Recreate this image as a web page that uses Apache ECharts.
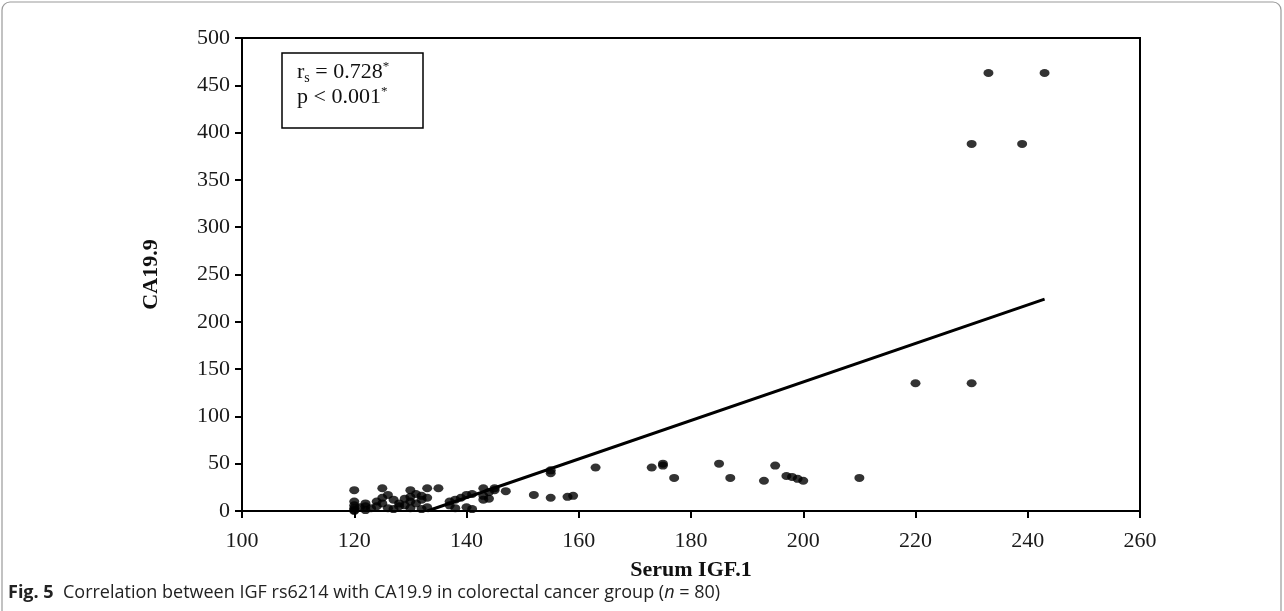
<!DOCTYPE html>
<html>
<head>
<meta charset="utf-8">
<script src="https://cdn.jsdelivr.net/npm/echarts@6/dist/echarts.min.js"></script>
<style>
  html, body { margin: 0; padding: 0; background: #fff; }
  #chart { width: 1284px; height: 611px; }
</style>
</head>
<body>
<div id="chart"></div>
<script>
// Serum IGF.1 (x) against CA19.9 (y), colorectal cancer group
const igfValues = [
  120, 120, 120, 120, 120, 120, 121, 122, 122, 122, 123, 124, 124,
  125, 125, 125, 126, 126, 127, 127, 128, 128, 129, 129,
  130, 130, 130, 130, 131, 131, 132, 132, 132, 133, 133, 133,
  135, 137, 137, 138, 138, 139, 140, 140, 141, 141,
  143, 143, 143, 144, 144, 145, 145, 147,
  152, 155, 155, 155, 158, 159, 163, 173, 175, 175, 177,
  185, 187, 193, 195, 197, 198, 199, 200, 210,
  220, 230, 230, 233, 239, 243
];
const ca199Values = [
  22, 10, 6, 3, 1, 0, 4, 5, 1, 8, 3, 5, 10,
  24, 14, 8, 17, 3, 12, 2, 8, 5, 13, 6,
  22, 15, 10, 3, 18, 8, 12, 16, 2, 24, 14, 4,
  24, 10, 6, 12, 3, 14, 17, 4, 18, 2,
  24, 16, 12, 13, 20, 24, 22, 21,
  17, 43, 40, 14, 15, 16, 46, 46, 48, 50, 35,
  50, 35, 32, 48, 37, 36, 34, 32, 35,
  135, 135, 388, 463, 388, 463
];

// fitted trend line end points
const trendX = [133, 243];
const trendY = [0, 224];

const xTicks = { min: 100, max: 260, step: 20 };
const yTicks = { min: 0, max: 500, step: 50 };

const statLines = ['r{sub|s} = 0.728{sup|*}', 'p < 0.001{sup|*}'];
const xTitle = 'Serum IGF.1';
const yTitle = 'CA19.9';
const captionLead = 'Fig. 5';
const captionText = 'Correlation between IGF rs6214 with CA19.9 in colorectal cancer group (';
const captionTail = ')';

const points = igfValues.map((x, i) => [x, ca199Values[i]]);
const trend = trendX.map((x, i) => [x, trendY[i]]);

const serif = '"Liberation Serif", "DejaVu Serif", serif';
const sans = '"Open Sans", "Noto Sans", sans-serif';

const chart = echarts.init(document.getElementById('chart'), null, { renderer: 'canvas' });

const axisCommon = {
  axisLine: { show: true, onZero: false, lineStyle: { color: '#000', width: 2 } },
  axisTick: { show: true, inside: false, length: 7, lineStyle: { color: '#000', width: 2 } },
  splitLine: { show: false },
  axisLabel: { color: '#1a1a1a', fontFamily: serif, fontSize: 22 }
};

chart.setOption({
  animation: false,
  backgroundColor: '#fff',
  grid: {
    left: 242, top: 38, right: 144, bottom: 100,
    show: true, borderColor: '#000', borderWidth: 2, backgroundColor: 'transparent'
  },
  xAxis: Object.assign({}, axisCommon, {
    type: 'value',
    min: xTicks.min, max: xTicks.max, interval: xTicks.step,
    name: xTitle, nameLocation: 'middle', nameGap: 48,
    nameTextStyle: { color: '#111', fontFamily: serif, fontSize: 22, fontWeight: 'bold' },
    axisLabel: Object.assign({}, axisCommon.axisLabel, { margin: 19 })
  }),
  yAxis: Object.assign({}, axisCommon, {
    type: 'value',
    min: yTicks.min, max: yTicks.max, interval: yTicks.step,
    name: yTitle, nameLocation: 'middle', nameGap: 80, nameRotate: 90,
    nameTextStyle: { color: '#111', fontFamily: serif, fontSize: 22, fontWeight: 'bold' },
    axisLabel: Object.assign({}, axisCommon.axisLabel, { margin: 12 })
  }),
  series: [
    {
      type: 'scatter',
      data: points,
      symbol: 'circle',
      symbolSize: [10, 8],
      itemStyle: { color: '#000' },
      z: 3
    },
    {
      type: 'line',
      data: trend,
      symbol: 'none',
      lineStyle: { color: '#000', width: 3 },
      z: 2
    }
  ],
  graphic: [
    {
      type: 'rect',
      shape: { x: 2, y: 2, width: 1279, height: 640, r: 8 },
      style: { fill: 'none', stroke: '#9a9a9a', lineWidth: 1.2 },
      silent: true
    },
    {
      type: 'rect',
      shape: { x: 282, y: 53, width: 141, height: 75 },
      style: { fill: '#fff', stroke: '#000', lineWidth: 1.5 },
      z: 10
    },
    {
      type: 'text',
      left: 297, top: 60, z: 11,
      style: {
        text: statLines.join('\n'),
        fill: '#111',
        font: '22px ' + serif,
        lineHeight: 25,
        rich: {
          sub: { font: '14px ' + serif, fill: '#111', verticalAlign: 'bottom', padding: [8, 0, 0, 0] },
          sup: { font: '13px ' + serif, fill: '#111', verticalAlign: 'top', padding: [0, 0, 8, 0] }
        }
      }
    },
    {
      type: 'text',
      left: 8, top: 584, z: 11,
      style: {
        text: '{b|' + captionLead + '}  ' + captionText + '{i|n} = 80' + captionTail,
        fill: '#222',
        font: '18px ' + sans,
        rich: {
          b: { font: 'bold 18px ' + sans, fill: '#222' },
          i: { font: 'italic 18px ' + sans, fill: '#222' }
        }
      }
    }
  ]
});
</script>
</body>
</html>
